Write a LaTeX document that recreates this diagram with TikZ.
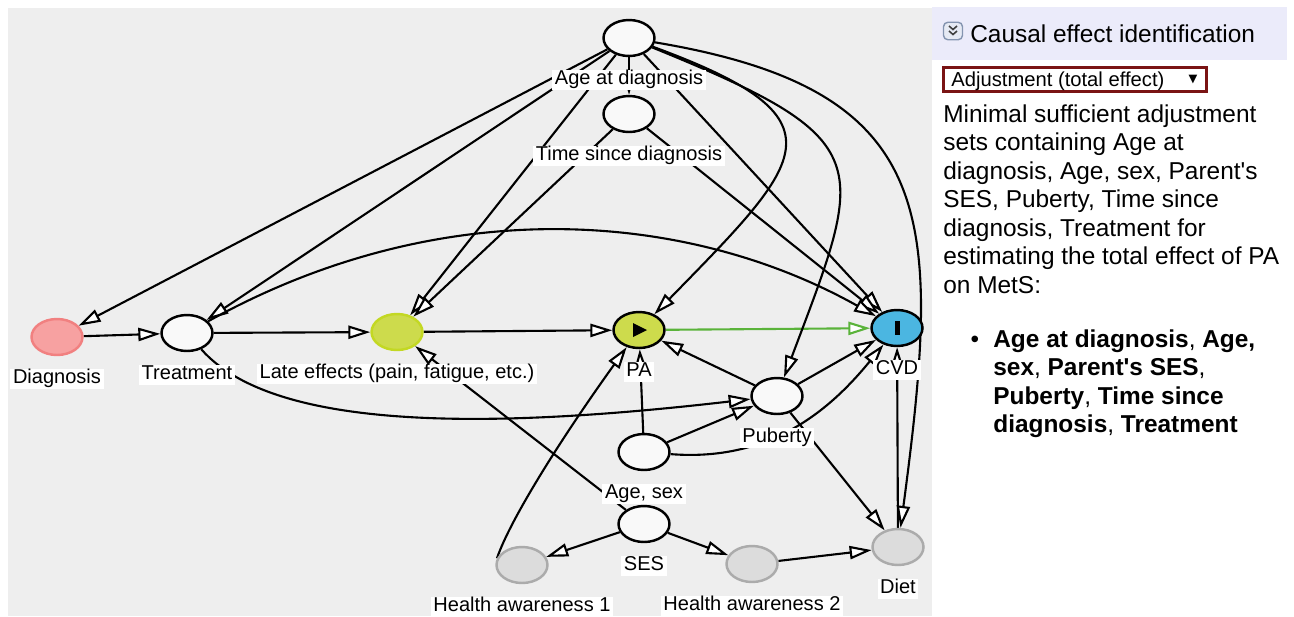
\documentclass[tikz,border=0pt]{standalone}
\usepackage{fontspec}
\setmainfont{Liberation Sans}
\newfontfamily\symfont{DejaVu Sans}
\usetikzlibrary{arrows.meta,shapes,positioning}
\definecolor{canvas}{HTML}{EEEEEE}
\definecolor{headbg}{HTML}{EBEBFA}
\definecolor{varfill}{HTML}{F9F9F9}
\definecolor{expofill}{HTML}{CDDB4C}
\definecolor{lateline}{HTML}{C3D823}
\definecolor{outfill}{HTML}{4BB6E1}
\definecolor{diagfill}{HTML}{F7A1A1}
\definecolor{diagline}{HTML}{F18080}
\definecolor{greyfill}{HTML}{DCDCDC}
\definecolor{greyline}{HTML}{ABABAB}
\definecolor{causalline}{HTML}{5AB33A}
\definecolor{menuline}{HTML}{7A1414}
\definecolor{iconline}{HTML}{8494B0}
\definecolor{iconfill}{HTML}{E6EAF4}
\pgfdeclarelayer{bg}
\pgfdeclarelayer{edgelayer}
\pgfsetlayers{bg,edgelayer,main}
\tikzstyle{var} = [ellipse, draw, line width=1.4pt, fill=varfill,
    minimum width=1.02cm, minimum height=0.72cm, inner sep=0pt]
\tikzstyle{diagvar} = [var, draw=diagline, fill=diagfill]
\tikzstyle{latevar} = [var, draw=lateline, fill=expofill]
\tikzstyle{expvar} = [var, fill=expofill]
\tikzstyle{outvar} = [var, fill=outfill]
\tikzstyle{greyvar} = [var, line width=1.4pt, draw=greyline, fill=greyfill]
\tikzstyle{lbl} = [fill=white, inner xsep=1.5pt, inner ysep=0.8pt, text height=0.72em,
    text depth=0.21em, font=\fontsize{11.4pt}{13pt}\selectfont]
\tikzstyle{causal} = [draw=causalline]
\tikzstyle{bodytxt} = [anchor=base west, inner sep=0pt, font=\fontsize{13.9pt}{17pt}\selectfont]
\tikzstyle{menutxt} = [anchor=base west, inner sep=0pt, font=\fontsize{11.5pt}{14pt}\selectfont]

\begin{document}
\begin{tikzpicture}[x=0.02cm,y=-0.02cm,->,>={Triangle[fill=white,length=12.5pt,width=7.5pt]},
                    line width=1.2pt,node distance=0.84cm]
  \useasboundingbox (0,0) rectangle (1294,616);
  \begin{pgfonlayer}{bg}
    \fill[canvas] (8,8) rectangle (932,616);
    \fill[headbg] (932,7) rectangle (1287,60);
  \end{pgfonlayer}

  \node[var]      (agedx)  at (629,38)  {};
  \node[var]      (timedx) at (629,114) {};
  \node[diagvar]  (diag)   at (57,337)  {};
  \node[var]      (treat)  at (187,333) {};
  \node[latevar]  (late)   at (397,332) {};
  \node[expvar]   (pa)     at (639,330) {};
  \node[outvar]   (cvd)    at (897,328) {};
  \node[var]      (pub)    at (777,396) {};
  \node[var]      (agesex) at (644,452) {};
  \node[var]      (ses)    at (644,524) {};
  \node[greyvar]  (ha1)    at (522,565) {};
  \node[greyvar]  (ha2)    at (752,564) {};
  \node[greyvar]  (diet)   at (898,547) {};
  \fill (633,323) -- (647,330) -- (633,337) -- cycle;
  \fill (894.5,321) rectangle (899.5,335);

  \node[lbl] (agedxl)  [below of=agedx]  {Age at diagnosis};
  \node[lbl] (timedxl) [below of=timedx] {Time since diagnosis};
  \node[lbl] (diagl)   [below of=diag]   {Diagnosis};
  \node[lbl] (treatl)  [below of=treat]  {Treatment};
  \node[lbl] (latel)   [below of=late]   {Late effects (pain, fatigue, etc.)};
  \node[lbl] (pal)     [below of=pa]     {PA};
  \node[lbl] (cvdl)    [below of=cvd]    {CVD};
  \node[lbl] (publ)    [below of=pub]    {Puberty};
  \node[lbl] (agesexl) [below of=agesex] {Age, sex};
  \node[lbl] (sesl)    [below of=ses]    {SES};
  \node[lbl] (ha1l)    [below of=ha1]    {Health awareness 1};
  \node[lbl] (ha2l)    [below of=ha2]    {Health awareness 2};
  \node[lbl] (dietl)   [below of=diet]   {Diet};

  \begin{pgfonlayer}{edgelayer}
  \begin{scope}[line width=1.2pt]
  \path (agedx) edge (diag)
  (agedx) edge (treat)
  (agedx) edge (late)
  (agedx) edge (timedx)
  (agedx) edge (cvd)
  (timedx) edge (late)
  (timedx) edge (cvd)
  (diag) edge (treat)
  (treat) edge (late)
  (late) edge (pa)
  (pub) edge (pa)
  (pub) edge (cvd)
  (pub) edge (diet)
  (agesex) edge (pa)
  (agesex) edge (pub)
  (ses) edge (late)
  (ses) edge (ha1)
  (ses) edge (ha2)
  (ha2) edge (diet)
  (diet) edge (cvd)
  (pa) edge[causal] (cvd);
  \draw (agedx) .. controls (850,119) and (805,160) .. (pa);
  \draw (agedx) .. controls (880,140) and (866,160) .. (pub);
  \draw (agedx) .. controls (940,90) and (942,215) .. (diet);
  \draw (treat) .. controls (445,190) and (690,212) .. (cvd);
  \draw (treat) .. controls (274,432) and (492,429) .. (pub);
  \draw (agesex) .. controls (770,462) and (830,410) .. (cvd);
  \draw (ha1.165) .. controls (510,520) and (560,440) .. (pa);
  \end{scope}
  \end{pgfonlayer}

  \node[draw=iconline, fill=iconfill, line width=0.8pt, rounded corners=2.5pt,
        minimum width=0.38cm, minimum height=0.35cm, inner sep=0pt] (icon) at (953,31) {};
  \draw[-, line width=0.9pt, black!75] (949,26) -- (953,29.5) -- (957,26);
  \draw[-, line width=0.9pt, black!75] (949,31) -- (953,34.5) -- (957,31);
  \node[bodytxt] (head) at (970,42) {Causal effect identification};
  \node[draw=menuline, line width=1.2pt, minimum width=5.26cm, minimum height=0.48cm,
        inner sep=0pt] (menu) at (1075,79.5) {};
  \node[menutxt] (menul) at (951,86) {Adjustment (total effect)};
  \node[inner sep=0pt, font=\symfont\fontsize{6.5pt}{8pt}\selectfont] (menuarr) at (1193,80) {▼};

  \node[bodytxt] (p1) at (943,122)   {Minimal sufficient adjustment};
  \node[bodytxt] (p2) at (943,150.5) {sets containing Age at};
  \node[bodytxt] (p3) at (943,179)   {diagnosis, Age, sex, Parent\textquotesingle s};
  \node[bodytxt] (p4) at (943,207.5) {SES, Puberty, Time since};
  \node[bodytxt] (p5) at (943,236)   {diagnosis, Treatment for};
  \node[bodytxt] (p6) at (943,264.5) {estimating the total effect of PA};
  \node[bodytxt] (p7) at (943,293)   {on MetS:};

  \node[bodytxt, anchor=base] (bullet) at (975,347) {\textbullet};
  \node[bodytxt] (s1) at (993,347)   {\bfseries Age at diagnosis\mdseries, \bfseries Age,};
  \node[bodytxt] (s2) at (993,375.5) {\bfseries sex\mdseries, \bfseries Parent\textquotesingle s SES\mdseries,};
  \node[bodytxt] (s3) at (993,404)   {\bfseries Puberty\mdseries, \bfseries Time since};
  \node[bodytxt] (s4) at (993,432.5) {\bfseries diagnosis\mdseries, \bfseries Treatment};
\end{tikzpicture}
\end{document}
